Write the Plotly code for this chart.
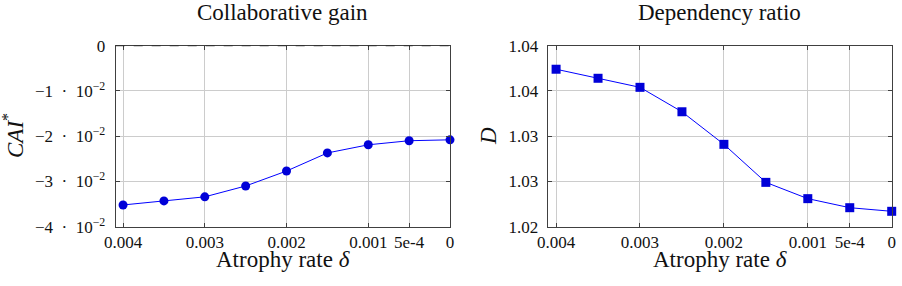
import plotly.graph_objects as go

# ---------------- data ----------------
delta = [0.004, 0.0035, 0.003, 0.0025, 0.002, 0.0015, 0.001, 0.0005, 0.0]
cai = [-0.0352, -0.0343, -0.0334, -0.0310, -0.0277, -0.0237, -0.0219, -0.0210, -0.0208]
dep = [1.0374, 1.0364, 1.0354, 1.0327, 1.0291, 1.0249, 1.0231, 1.0221, 1.0217]

x_tickvals = [0.004, 0.003, 0.002, 0.001, 0.0005, 0.0]
x_ticktext = ["0.004", "0.003", "0.002", "0.001", "5e-4", "0"]

cai_tickvals = [0.0, -0.01, -0.02, -0.03, -0.04]
cai_ticktext = ["0", "−1\u2002·\u200210<sup>−2</sup>", "−2\u2002·\u200210<sup>−2</sup>",
                "−3\u2002·\u200210<sup>−2</sup>", "−4\u2002·\u200210<sup>−2</sup>"]

dep_tickvals = [1.02, 1.025, 1.03, 1.035, 1.04]
dep_ticktext = ["1.02", "1.03", "1.03", "1.04", "1.04"]

titles = ["Collaborative gain", "Dependency ratio"]
xlabel = "Atrophy rate <i>δ</i>"
ylabels = ["<i>CAI</i><sup>*</sup>", "<i>D</i>"]

# ---------------- layout constants ----------------
W, H = 902, 286
FONT = "Liberation Serif, DejaVu Serif, serif"
BLUE = "#0000ff"
MARK = "#0000d8"
GRID = "#cccccc"
FRAME = "#404040"

def px(x):
    return x / W

def py(y):
    return 1 - y / H

left_dom = [px(115.7), px(450.0)]
right_dom = [px(547.7), px(891.7)]
y_dom = [py(226.7), py(45.7)]

fig = go.Figure()

fig.add_trace(go.Scatter(
    x=delta, y=cai, mode="lines+markers", xaxis="x", yaxis="y",
    line=dict(color=BLUE, width=1),
    marker=dict(symbol="circle", size=9, color=MARK, line=dict(width=0)),
    cliponaxis=False, showlegend=False))

fig.add_trace(go.Scatter(
    x=delta, y=dep, mode="lines+markers", xaxis="x2", yaxis="y2",
    line=dict(color=BLUE, width=1),
    marker=dict(symbol="square", size=9, color=MARK, line=dict(width=0)),
    cliponaxis=False, showlegend=False))

common_x = dict(
    tickvals=x_tickvals, ticktext=x_ticktext,
    showgrid=True, gridcolor=GRID, gridwidth=1,
    showline=True, linecolor=FRAME, linewidth=1, mirror="allticks",
    ticks="inside", ticklen=4, tickcolor=FRAME,
    zeroline=False, ticklabelstandoff=0, automargin=False,
    tickfont=dict(family=FONT, size=17, color="#111"),
)
common_y = dict(
    showgrid=True, gridcolor=GRID, gridwidth=1,
    showline=True, linecolor=FRAME, linewidth=1, mirror="allticks",
    ticks="inside", ticklen=4, tickcolor=FRAME,
    zeroline=False, automargin=False,
    tickfont=dict(family=FONT, size=17, color="#111"),
)

fig.update_layout(
    width=W, height=H,
    margin=dict(l=0, r=0, t=0, b=0, pad=0, autoexpand=False),
    font=dict(family=FONT, size=17),
    paper_bgcolor="white", plot_bgcolor="white",
    xaxis=dict(domain=left_dom, range=[0.00409, 0.0], anchor="y", **common_x),
    yaxis=dict(domain=y_dom, range=[-0.04, 0.0], anchor="x",
               tickvals=cai_tickvals, ticktext=cai_ticktext,
               ticklabelstandoff=6, **common_y),
    xaxis2=dict(domain=right_dom, range=[0.0041, 0.0], anchor="y2", **common_x),
    yaxis2=dict(domain=y_dom, range=[1.02, 1.04], anchor="x2",
                tickvals=dep_tickvals, ticktext=dep_ticktext,
                ticklabelstandoff=5, **common_y),
)

# dashed reference line at zero on left panel
fig.add_shape(type="line", xref="x domain", yref="y", x0=0, x1=1, y0=0, y1=0,
              line=dict(color="black", width=1, dash="dash"), layer="above")

ann_font = dict(family=FONT, size=23, color="#111")
centers = [(left_dom[0] + left_dom[1]) / 2, (right_dom[0] + right_dom[1]) / 2]
for i, c in enumerate(centers):
    fig.add_annotation(text=titles[i], x=c, y=py(13), xref="paper", yref="paper",
                       showarrow=False, font=ann_font, xanchor="center", yanchor="middle")
    fig.add_annotation(text=xlabel, x=c, y=py(259), xref="paper", yref="paper",
                       showarrow=False, font=ann_font, xanchor="center", yanchor="middle")

fig.add_annotation(text=ylabels[0], x=px(13), y=py(136), xref="paper", yref="paper",
                   showarrow=False, font=ann_font, textangle=-90,
                   xanchor="center", yanchor="middle")
fig.add_annotation(text=ylabels[1], x=px(488), y=py(136), xref="paper", yref="paper",
                   showarrow=False, font=ann_font, textangle=-90,
                   xanchor="center", yanchor="middle")

fig.write_html("out.html")
